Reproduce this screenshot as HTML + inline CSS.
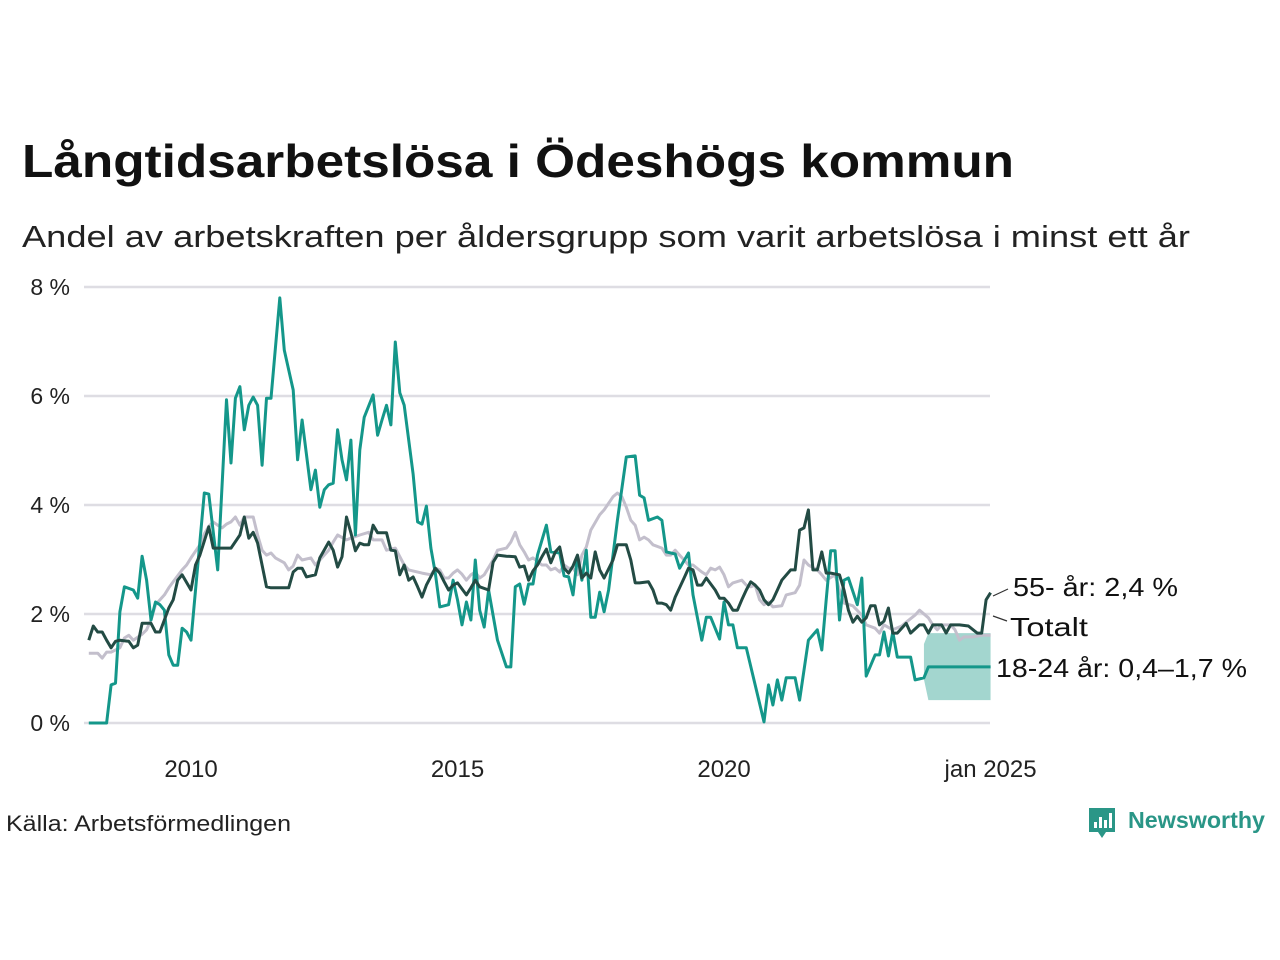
<!DOCTYPE html>
<html><head><meta charset="utf-8">
<style>
html,body{margin:0;padding:0;background:#fff;}
svg{display:block;font-family:"Liberation Sans","DejaVu Sans",sans-serif;}
</style></head>
<body>
<svg id="chart" width="1280" height="960" viewBox="0 0 1280 960" xmlns="http://www.w3.org/2000/svg">
<text x="22" y="177" font-size="46" font-weight="bold" fill="#111" textLength="992" lengthAdjust="spacingAndGlyphs">Långtidsarbetslösa i Ödeshögs kommun</text>
<text x="22" y="247" font-size="31" fill="#222" textLength="1168" lengthAdjust="spacingAndGlyphs">Andel av arbetskraften per åldersgrupp som varit arbetslösa i minst ett år</text>
<g id="grid"></g>
<g id="yticks"></g>
<g id="xticks"></g>
<g id="marks"></g>
<g id="labels"></g>
<text x="6" y="831" font-size="22" fill="#222" textLength="285" lengthAdjust="spacingAndGlyphs">Källa: Arbetsförmedlingen</text>
<g>
<path d="M1089 808 h26 v24 h-9 l-4 6 l-4 -6 h-9 z" fill="#2a9687"/>
<rect x="1094" y="822" width="3" height="6" fill="#fff"/><rect x="1099" y="817" width="3" height="11" fill="#fff"/><rect x="1104" y="820" width="3" height="8" fill="#fff"/><rect x="1109" y="813" width="3" height="15" fill="#fff"/>
<text x="1128" y="828" font-size="23" font-weight="bold" fill="#2a9687" textLength="137" lengthAdjust="spacingAndGlyphs">Newsworthy</text>
</g>
</svg>
<script>
// months since Jan 2008
const totalMonths=[1,3,4,5,6,8,9,10,11,13,14,15,16,18,19,20,22,23,24,26,27,28,29,30,31,32,33,34,35,36,37,38,39,40,41,42,43,45,46,47,48,49,51,52,53,55,56,57,59,60,62,64,65,67,68,70,72,73,76,78,79,80,81,82,83,84,85,86,87,88,89,90,92,93,95,96,97,98,99,100,101,103,104,105,106,107,108,109,110,111,112,113,114,116,117,119,120,121,122,123,124,125,126,127,128,130,131,132,133,134,135,136,137,139,140,141,142,143,144,145,146,148,149,150,151,152,153,154,155,157,158,160,161,162,163,165,166,167,169,170,171,173,175,176,178,179,180,182,184,185,187,188,190,191,192,193,195,196,197,198,200,202,204];
const totalValues=[1.28,1.28,1.19,1.30,1.30,1.38,1.56,1.61,1.52,1.63,1.71,1.89,2.17,2.35,2.48,2.59,2.81,2.90,3.03,3.27,3.47,3.61,3.69,3.63,3.58,3.65,3.69,3.78,3.63,3.78,3.78,3.78,3.45,3.17,3.08,3.12,3.03,2.94,2.81,2.88,3.08,2.99,3.03,2.90,2.99,3.17,3.32,3.45,3.36,3.39,3.45,3.50,3.36,3.36,3.17,3.21,2.90,2.81,2.75,2.72,2.84,2.81,2.66,2.66,2.75,2.81,2.73,2.62,2.72,2.77,2.66,2.72,2.99,3.17,3.21,3.32,3.50,3.27,3.14,2.99,3.03,2.90,2.90,2.81,2.84,2.77,2.90,2.84,2.84,2.72,3.08,3.23,3.54,3.82,3.91,4.15,4.22,4.15,3.96,3.72,3.63,3.36,3.41,3.36,3.27,3.21,3.08,3.08,3.17,3.08,2.99,2.90,2.90,2.77,2.72,2.84,2.81,2.86,2.72,2.50,2.57,2.62,2.53,2.50,2.53,2.26,2.17,2.22,2.13,2.15,2.35,2.39,2.53,2.99,2.90,2.81,2.72,2.62,2.72,2.44,2.20,2.15,1.98,1.80,1.74,1.65,1.80,1.71,1.78,1.85,1.98,2.07,1.93,1.80,1.71,1.80,1.80,1.71,1.52,1.58,1.58,1.61,1.61];

const oldMonths=[1,2,3,4,5,6,7,8,10,11,12,13,15,16,17,19,20,21,22,24,25,26,28,29,32,33,35,36,37,38,39,41,42,45,46,47,48,49,50,52,53,55,56,57,58,59,60,61,62,63,64,65,66,68,69,70,71,72,73,74,75,76,77,79,80,81,82,83,84,86,87,88,89,91,92,93,95,97,98,99,100,101,102,103,104,105,106,107,108,109,110,111,112,113,114,115,116,117,119,120,122,123,124,125,127,128,129,130,131,132,133,135,136,137,138,139,140,142,143,144,145,146,147,148,149,150,151,152,153,154,155,156,157,159,160,161,162,163,164,165,166,167,168,170,171,172,173,174,175,176,177,178,179,180,181,182,183,185,186,188,189,190,191,193,194,195,197,199,201,202,203,204];
const oldValues=[1.52,1.78,1.67,1.67,1.52,1.38,1.50,1.52,1.50,1.38,1.43,1.83,1.83,1.67,1.67,2.11,2.26,2.62,2.72,2.44,2.90,3.08,3.60,3.21,3.21,3.21,3.45,3.78,3.39,3.50,3.30,2.50,2.48,2.48,2.48,2.77,2.84,2.84,2.68,2.72,3.03,3.32,3.17,2.86,3.05,3.78,3.49,3.16,3.30,3.27,3.27,3.63,3.49,3.49,3.17,3.16,2.72,2.90,2.62,2.68,2.50,2.31,2.53,2.84,2.75,2.59,2.44,2.53,2.57,2.35,2.48,2.62,2.50,2.44,2.95,3.08,3.06,3.05,2.86,2.88,2.62,2.79,2.90,3.05,3.19,2.94,3.14,3.23,2.84,2.75,2.88,3.08,2.66,2.75,2.66,3.14,2.81,2.66,2.99,3.27,3.27,2.99,2.57,2.57,2.59,2.44,2.20,2.20,2.17,2.07,2.31,2.66,2.84,2.81,2.53,2.53,2.66,2.44,2.29,2.29,2.20,2.07,2.07,2.26,2.44,2.59,2.53,2.44,2.26,2.17,2.26,2.44,2.62,2.81,2.81,3.54,3.58,3.91,2.81,2.81,3.14,2.75,2.75,2.72,2.44,2.07,1.85,1.96,1.85,1.93,2.15,2.15,1.80,1.87,2.11,1.65,1.65,1.83,1.65,1.80,1.80,1.65,1.80,1.80,1.65,1.80,1.80,1.78,1.65,1.65,2.26,2.39];

const youngMonths=[1,5,6,7,8,9,11,12,13,14,15,16,17,18,19,20,21,22,23,24,27,28,30,32,33,34,35,36,37,38,39,40,41,42,44,45,47,48,49,51,52,53,54,55,56,57,58,59,60,61,62,63,65,66,67,68,69,70,71,72,74,75,76,77,78,79,80,82,83,84,85,86,87,88,89,90,91,93,95,96,97,98,99,100,101,102,104,105,107,108,109,110,111,112,113,114,115,116,117,118,120,122,124,125,126,127,129,130,131,133,134,136,137,139,140,141,143,144,145,146,147,149,153,154,155,156,157,158,160,161,163,165,166,167,168,169,170,171,172,174,175,176,178,179,180,181,182,183,186,187,188,189,190,204];
const youngValues=[0,0,0.70,0.73,2.04,2.50,2.44,2.29,3.06,2.62,1.89,2.22,2.17,2.07,1.25,1.06,1.06,1.74,1.67,1.52,4.22,4.20,2.81,5.93,4.77,5.96,6.17,5.38,5.83,5.98,5.83,4.73,5.96,5.96,7.80,6.84,6.11,4.83,5.56,4.28,4.64,3.96,4.28,4.37,4.40,5.38,4.83,4.46,5.19,3.45,5.01,5.61,6.02,5.28,5.56,5.83,5.47,6.99,6.06,5.83,4.57,3.69,3.65,3.98,3.21,2.75,2.13,2.17,2.62,2.26,1.80,2.22,1.89,2.99,2.07,1.76,2.44,1.52,1.03,1.03,2.50,2.55,2.18,2.55,2.55,3.08,3.63,3.14,3.12,2.70,2.68,2.35,3.06,2.62,3.17,1.94,1.94,2.40,2.04,2.44,3.72,4.88,4.90,4.18,4.13,3.72,3.78,3.72,3.14,3.10,2.84,3.12,2.35,1.52,1.94,1.94,1.54,2.22,1.80,1.80,1.38,1.38,0.02,0.70,0.33,0.79,0.42,0.83,0.83,0.42,1.52,1.71,1.34,2.26,3.16,3.16,1.89,2.62,2.66,2.17,2.66,0.86,1.25,1.25,1.67,1.23,1.67,1.21,1.21,0.79,0.81,0.83,1.03,1.03];
const bandMonths=[189,190,204];
const bandLow=[0.80,0.42,0.42];
const bandHigh=[1.45,1.65,1.65];

const yTicks=[0,2,4,6,8];
const yTickLabels=["0 %","2 %","4 %","6 %","8 %"];
const xTickMonths=[24,84,144,204];
const xTickLabels=["2010","2015","2020","jan 2025"];

const NS="http://www.w3.org/2000/svg";
const X0=84.4, XW=4.442, Y0=723, YK=54.5;
function xs(m){return X0+m*XW;}
function ys(v){return Y0-v*YK;}
function mk(tag,attrs,parent){const e=document.createElementNS(NS,tag);for(const k in attrs)e.setAttribute(k,attrs[k]);parent.appendChild(e);return e;}

const grid=document.getElementById('grid'),yt=document.getElementById('yticks'),xt=document.getElementById('xticks'),marks=document.getElementById('marks'),labels=document.getElementById('labels');
yTicks.forEach((t,i)=>{
  const l=mk('line',{x1:84,x2:990,y1:ys(t),y2:ys(t),stroke:'#dedde3','stroke-width':2.5},grid);
  
  
  const tx=mk('text',{x:70,y:ys(t)+8,'font-size':23,'text-anchor':'end',fill:'#222'},yt);
  tx.textContent=yTickLabels[i];
  
  
});
xTickMonths.forEach((m,i)=>{
  const tx=mk('text',{x:xs(m),y:777,'font-size':24,'text-anchor':'middle',fill:'#222'},xt);
  tx.textContent=xTickLabels[i];
  
  
});
function pathOf(ms,vs){return ms.map((m,i)=>(i?'L':'M')+xs(m).toFixed(1)+' '+ys(vs[i]).toFixed(1)).join(' ');}
let bd=bandMonths.map((m,i)=>(i?'L':'M')+xs(m)+' '+ys(bandHigh[i])).join(' ');
for(let i=bandMonths.length-1;i>=0;i--)bd+=' L'+xs(bandMonths[i])+' '+ys(bandLow[i]);
const band=mk('path',{d:bd+' Z',fill:'#a3d6cf'},marks);


const pT=mk('path',{d:pathOf(totalMonths,totalValues),fill:'none',stroke:'#c3bfcc','stroke-width':3,'stroke-linejoin':'round'},marks);


const pY=mk('path',{d:pathOf(youngMonths,youngValues),fill:'none',stroke:'#14978a','stroke-width':3,'stroke-linejoin':'round'},marks);


const pO=mk('path',{d:pathOf(oldMonths,oldValues),fill:'none',stroke:'#234b44','stroke-width':3,'stroke-linejoin':'round'},marks);



const lab=[["55- år: 2,4 %",1013,596,[[993,596],[1008,589]],165],["Totalt",1010,636,[[993,616],[1007,621]],78],["18-24 år: 0,4–1,7 %",996,677,null,251]];
lab.forEach(a=>{
  if(a[3]){const ln=mk('polyline',{points:a[3].map(p=>p.join(',')).join(' '),fill:'none',stroke:'#333','stroke-width':1.2},labels);
  
  }
  const t=mk('text',{x:a[1],y:a[2],'font-size':26,fill:'#111',textLength:a[4],lengthAdjust:'spacingAndGlyphs'},labels);
  t.textContent=a[0];
  
  
});
</script>
</body></html>
